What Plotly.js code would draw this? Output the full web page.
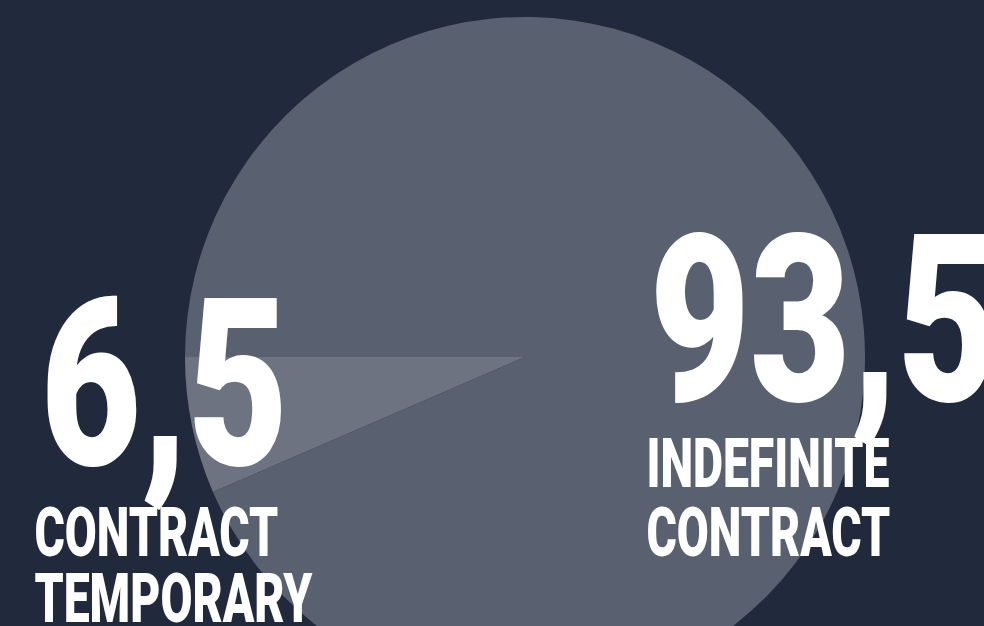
<!DOCTYPE html>
<html>
<head>
<meta charset="utf-8">
<script src="https://cdn.plot.ly/plotly-3.0.1.min.js"></script>
<style>
html,body{margin:0;padding:0;overflow:hidden;background:#212a3d;width:984px;height:626px;}
#chart{width:984px;height:720px;}
</style>
</head>
<body>
<div id="chart"></div>
<script>
const labels = ["Contract temporary", "Indefinite contract"];
const values = [6.5, 93.5];
const valueText = ["6,5", "93,5"];
const labelLines = [["CONTRACT", "TEMPORARY"], ["INDEFINITE", "CONTRACT"]];
const sliceColors = ["#6d7381", "#596070"];

const H = 720, W = 984;
const FONT = "Roboto, 'DejaVu Sans Condensed', Arial, sans-serif";
function py(p){ return 1 - p / H; }
function px(p){ return p / W; }

const annotations = [];
const leftX = [];
const kinds = [];
const bigPos = [{x: 39, yc: 385}, {x: 648, yc: 321}];
const smallPos = [{x: 33, yc: [532, 598]}, {x: 645, yc: [463, 532]}];
for (let i = 0; i < values.length; i++) {
  annotations.push({
    text: valueText[i], xref: "paper", yref: "paper",
    x: px(bigPos[i].x), y: py(bigPos[i].yc), xanchor: "left", yanchor: "middle",
    showarrow: false, font: {family: FONT, size: 234, color: "#ffffff", weight: 900}
  });
  leftX.push(bigPos[i].x); kinds.push("big");
  for (let j = 0; j < labelLines[i].length; j++) {
    annotations.push({
      text: labelLines[i][j], xref: "paper", yref: "paper",
      x: px(smallPos[i].x), y: py(smallPos[i].yc[j]), xanchor: "left", yanchor: "middle",
      showarrow: false, font: {family: FONT, size: 69, color: "#ffffff", weight: 900}
    });
    leftX.push(smallPos[i].x); kinds.push("small");
  }
}

// the small slice begins at 9 o'clock and runs downward (counter-clockwise on screen)
const total = values.reduce(function(a, b){ return a + b; }, 0);
const startRotation = -90 - 360 * values[0] / total;

const data = [{
  type: "pie",
  labels: labels,
  values: values,
  sort: false,
  direction: "clockwise",
  rotation: startRotation,
  textinfo: "none",
  hoverinfo: "none",
  marker: {colors: sliceColors, line: {width: 0}},
  domain: {x: [px(525 - 340), px(525 + 340)], y: [py(357 + 340), py(357 - 340)]}
}];

const layout = {
  width: W, height: H,
  margin: {l: 0, r: 0, t: 0, b: 0},
  paper_bgcolor: "#212a3d",
  plot_bgcolor: "#212a3d",
  showlegend: false,
  annotations: annotations
};

Plotly.newPlot("chart", data, layout, {displayModeBar: false, staticPlot: true}).then(function(gd){
  // condense the lettering horizontally (the original uses a condensed typeface)
  const groups = gd.querySelectorAll("g.annotation");
  const texts = gd.querySelectorAll("g.annotation text.annotation-text");
  const wBig = texts[0].getComputedTextLength();
  const wSmall = texts[1].getComputedTextLength();
  const sBig = 248 / wBig, sSmall = 244 / wSmall;
  groups.forEach(function(g, k){
    const s = kinds[k] === "big" ? sBig : sSmall;
    const x0 = leftX[k];
    g.setAttribute("transform", "translate(" + x0 + ",0) scale(" + s + ",1) translate(" + (-x0) + ",0)");
  });
});
</script>
</body>
</html>
